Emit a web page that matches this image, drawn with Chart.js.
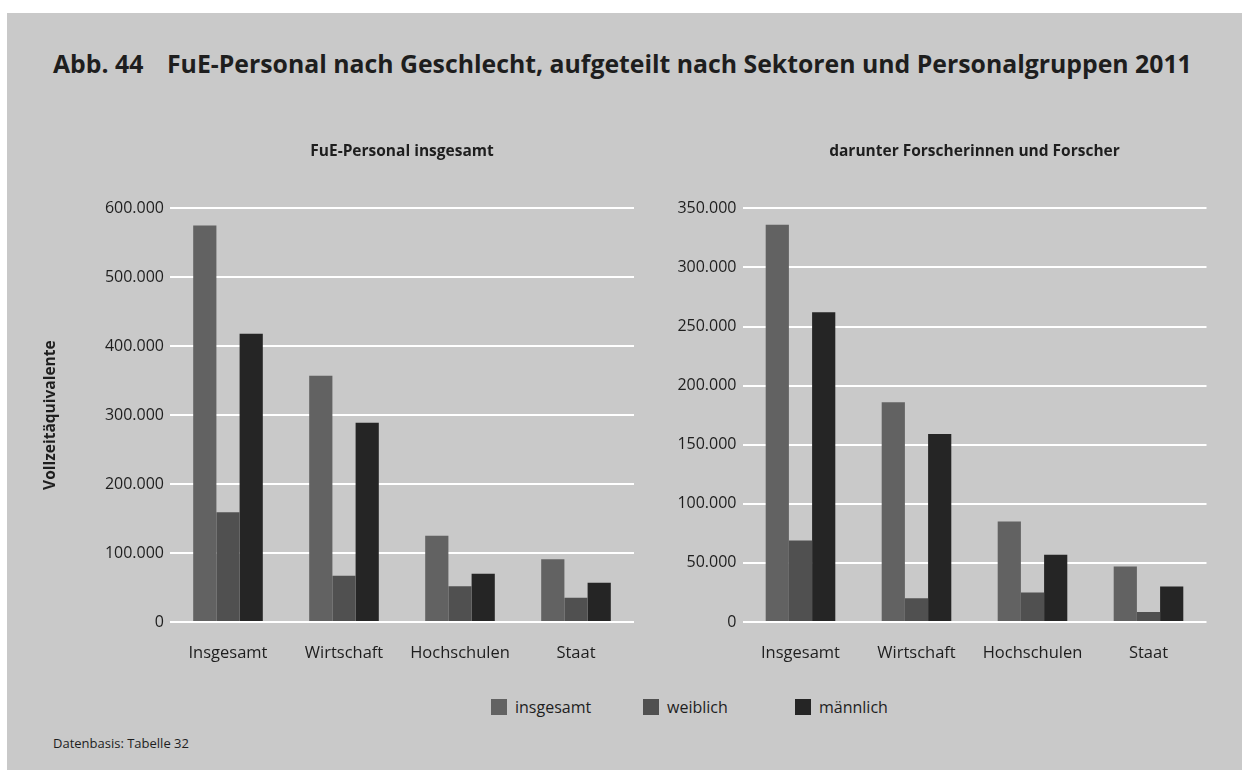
<!DOCTYPE html>
<html lang="de">
<head>
<meta charset="utf-8">
<script src="https://cdn.jsdelivr.net/npm/chart.js@4.4.1/dist/chart.umd.min.js"></script>
<style>
  html, body { margin: 0; padding: 0; background: #fff; }
  body { width: 1242px; height: 770px; position: relative; overflow: hidden; font-family: "Open Sans", sans-serif; color: #1e1e1e; }
  #panel { position: absolute; left: 7px; top: 13px; right: 0; bottom: 0; background: #c9c9c9; }
  #title { position: absolute; left: 53px; top: 51px; font-size: 24.8px; font-weight: 700; line-height: 1; white-space: nowrap; }
  #title .nr { display: inline-block; width: 114px; }
  #left { position: absolute; left: 0; top: 0; }
  #right { position: absolute; left: 640px; top: 0; }
  #legend { position: absolute; left: 491px; top: 696px; display: flex; font-size: 16px; }
  #legend .item { width: 152px; display: flex; align-items: center; }
  #legend .box { width: 16px; height: 16px; margin-right: 8px; }
  #source { position: absolute; left: 53px; top: 734px; font-size: 13px; }
</style>
</head>
<body>
<div id="panel"></div>
<div id="title"><span class="nr">Abb. 44</span>FuE-Personal nach Geschlecht, aufgeteilt nach Sektoren und Personalgruppen 2011</div>
<canvas id="left" width="640" height="680"></canvas>
<canvas id="right" width="602" height="680"></canvas>
<div id="legend"></div>
<div id="source">Datenbasis: Tabelle 32</div>
<script>
const categories = ["Insgesamt", "Wirtschaft", "Hochschulen", "Staat"];
const seriesLabels = ["insgesamt", "weiblich", "männlich"];
const seriesColors = ["#626262", "#505050", "#252525"];

// FuE-Personal insgesamt
const personalInsgesamt = [575000, 357000, 125000, 91000];
const personalWeiblich = [159000, 67000, 52000, 35000];
const personalMaennlich = [418000, 289000, 70000, 57000];

// darunter Forscherinnen und Forscher
const forscherInsgesamt = [336000, 186000, 85000, 47000];
const forscherWeiblich = [69000, 20000, 25000, 8500];
const forscherMaennlich = [262000, 159000, 57000, 30000];

Chart.defaults.font.family = "'Open Sans', sans-serif";
Chart.defaults.color = "#1e1e1e";

function fmt(v) {
    return String(v).replace(/\B(?=(\d{3})+(?!\d))/g, ".");
}

function makeDatasets(values) {
    return values.map((data, i) => ({
        label: seriesLabels[i],
        data: data,
        backgroundColor: seriesColors[i],
        categoryPercentage: 0.6,
        barPercentage: 1.0
    }));
}

function renderChart(id, title, values, max, step, axisWidth, padding, showAxisTitle) {
    return new Chart(document.getElementById(id), {
        type: "bar",
        data: { labels: categories, datasets: makeDatasets(values) },
        options: {
            responsive: false,
            animation: false,
            layout: { padding: padding },
            scales: {
                x: {
                    grid: { display: false, drawTicks: false },
                    border: { display: false },
                    ticks: { font: { size: 16.5 }, padding: 21, color: "#1e1e1e" },
                    afterFit: (scale) => { scale.height = 40; }
                },
                y: {
                    min: 0,
                    max: max,
                    grid: { color: "#ffffff", lineWidth: 2, drawTicks: false },
                    border: { display: false },
                    ticks: {
                        stepSize: step,
                        padding: 6,
                        font: { size: 16 },
                        color: "#1e1e1e",
                        callback: (v) => fmt(v)
                    },
                    title: {
                        display: showAxisTitle,
                        text: "Vollzeitäquivalente",
                        font: { size: 15.5, weight: "bold" },
                        padding: { top: 11, bottom: 0 }
                    },
                    afterFit: (scale) => { scale.width = axisWidth; }
                }
            },
            plugins: {
                legend: { display: false },
                tooltip: { enabled: false },
                title: {
                    display: true,
                    text: title,
                    fullSize: false,
                    font: { size: 15.5, weight: "bold" },
                    color: "#1e1e1e",
                    padding: { top: 142.7, bottom: 47 }
                }
            }
        }
    });
}

renderChart("left", "FuE-Personal insgesamt",
    [personalInsgesamt, personalWeiblich, personalMaennlich],
    600000, 100000, 140, { left: 30, right: 6, top: 0, bottom: 18 }, true);

renderChart("right", "darunter Forscherinnen und Forscher",
    [forscherInsgesamt, forscherWeiblich, forscherMaennlich],
    350000, 50000, 102.5, { left: 0, right: 35.5, top: 0, bottom: 18 }, false);

const legend = document.getElementById("legend");
seriesLabels.forEach((label, i) => {
    const item = document.createElement("div");
    item.className = "item";
    const box = document.createElement("span");
    box.className = "box";
    box.style.background = seriesColors[i];
    item.appendChild(box);
    item.appendChild(document.createTextNode(label));
    legend.appendChild(item);
});
</script>
</body>
</html>
